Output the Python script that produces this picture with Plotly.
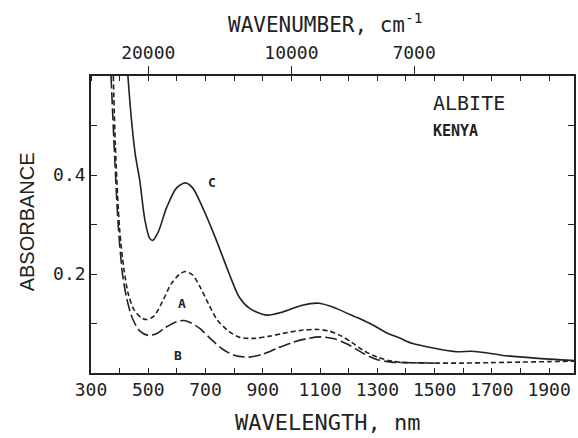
import plotly.graph_objects as go

# Curve A (short dash)
a_nm = [378, 385, 400, 415, 430, 450, 475, 495, 520, 550, 580, 610, 630, 655, 680, 710, 740, 780, 820, 870,
        920, 970, 1030, 1090, 1130, 1170, 1210, 1250, 1300, 1350, 1400, 1500, 1600, 1700, 1800, 1900, 1987]
a_abs = [0.60, 0.46, 0.29, 0.21, 0.16, 0.128, 0.112, 0.108, 0.115, 0.145, 0.18, 0.200, 0.205, 0.198, 0.175, 0.14, 0.108, 0.085, 0.072, 0.070,
         0.074, 0.080, 0.086, 0.088, 0.085, 0.076, 0.062, 0.046, 0.032, 0.024, 0.021, 0.020, 0.020, 0.021, 0.022, 0.023, 0.024]

# Curve B (long dash)
b_nm = [370, 380, 395, 410, 425, 445, 470, 500, 530, 560, 600, 625, 650, 680, 720, 760, 800, 850, 900,
        950, 1000, 1050, 1100, 1150, 1200, 1250, 1300, 1350, 1400, 1500]
b_abs = [0.60, 0.47, 0.30, 0.20, 0.15, 0.11, 0.085, 0.076, 0.080, 0.092, 0.104, 0.106, 0.101, 0.090, 0.068, 0.048, 0.036, 0.032, 0.038,
         0.050, 0.061, 0.069, 0.073, 0.069, 0.057, 0.040, 0.027, 0.022, 0.021, 0.020]

# Curve C (solid)
c_nm = [429, 440, 455, 470, 488, 505, 516, 535, 564, 599, 630, 655, 690, 738, 783, 818, 853, 912, 969,
        1038, 1097, 1155, 1190, 1230, 1281, 1330, 1380, 1421, 1500, 1577, 1629, 1680, 1733, 1851, 1987]
c_abs = [0.60, 0.52, 0.44, 0.39, 0.31, 0.272, 0.268, 0.285, 0.334, 0.374, 0.384, 0.374, 0.334, 0.268, 0.20, 0.153, 0.131, 0.117, 0.123,
         0.137, 0.141, 0.131, 0.122, 0.112, 0.098, 0.082, 0.070, 0.060, 0.050, 0.043, 0.044, 0.041, 0.036, 0.030, 0.025]

x_ticks = [300, 500, 700, 900, 1100, 1300, 1500, 1700, 1900]
top_ticks_wn = [20000, 10000, 7000]
y_ticks = [0.2, 0.4]

INK = "#222222"
MONO = "DejaVu Sans Mono"

fig = go.Figure()
fig.add_trace(go.Scatter(x=a_nm, y=a_abs, mode="lines",
                         line=dict(color=INK, width=1.6, dash="5px,3px", shape="spline", smoothing=0.8)))
fig.add_trace(go.Scatter(x=b_nm, y=b_abs, mode="lines",
                         line=dict(color=INK, width=1.6, dash="12px,4px", shape="spline", smoothing=0.8)))
fig.add_trace(go.Scatter(x=c_nm, y=c_abs, mode="lines",
                         line=dict(color=INK, width=1.6, shape="spline", smoothing=0.8)))
# invisible trace to activate the top axis
fig.add_trace(go.Scatter(x=[c_nm[0]], y=[c_abs[0]], xaxis="x2", mode="markers",
                         marker=dict(opacity=0), hoverinfo="skip"))

xr = [300, 1987]
fig.update_layout(
    width=578, height=438,
    margin=dict(l=91, r=2, t=76, b=65),
    paper_bgcolor="white", plot_bgcolor="white",
    showlegend=False,
    font=dict(family=MONO, size=18, color=INK),
    xaxis=dict(range=xr, tickmode="array", tickvals=x_ticks, ticktext=[str(v) for v in x_ticks],
               ticks="inside", ticklen=5, tickwidth=1.2, tickcolor=INK,
               minor=dict(ticks="inside", tick0=300, dtick=100, ticklen=5, tickwidth=1.2, tickcolor=INK),
               showline=True, linecolor=INK, linewidth=1.6, mirror=True,
               showgrid=False, zeroline=False,
               tickfont=dict(family=MONO, size=18, color=INK)),
    xaxis2=dict(range=xr, overlaying="x", side="top", anchor="y", tickmode="array",
                tickvals=[1e7 / w for w in top_ticks_wn], ticktext=[str(w) for w in top_ticks_wn],
                ticks="outside", ticklen=8, tickwidth=1.2, tickcolor=INK,
                minor=dict(ticks="inside", tick0=300, dtick=100, ticklen=5, tickwidth=1.2, tickcolor=INK),
                showline=True, linecolor=INK, linewidth=1.6,
                showgrid=False, zeroline=False,
                tickfont=dict(family=MONO, size=18, color=INK)),
    yaxis=dict(range=[0, 0.6], tickmode="array", tickvals=y_ticks, ticktext=[f"{v:.1f}" for v in y_ticks],
               ticks="inside", ticklen=6, tickwidth=1.2, tickcolor=INK,
               minor=dict(ticks="inside", tick0=0, dtick=0.1, ticklen=6, tickwidth=1.2, tickcolor=INK),
               showline=True, linecolor=INK, linewidth=1.6, mirror="ticks",
               showgrid=False, zeroline=False,
               tickfont=dict(family=MONO, size=18, color=INK)),
    annotations=[
        dict(text="WAVELENGTH, nm", xref="paper", yref="paper", x=0.49, y=-0.165,
             showarrow=False, font=dict(family=MONO, size=22, color=INK), xanchor="center", yanchor="middle"),
        dict(text="WAVENUMBER, cm<sup>-1</sup>", xref="paper", yref="paper", x=0.485, y=1.18,
             showarrow=False, font=dict(family=MONO, size=21, color=INK), xanchor="center", yanchor="middle"),
        dict(text="ABSORBANCE", xref="paper", yref="paper", x=-0.132, y=0.508, textangle=-90,
             showarrow=False, font=dict(family="Liberation Sans", size=20, color=INK), xanchor="center", yanchor="middle"),
        dict(text="ALBITE", xref="x", yref="y", x=1486, y=0.545, xanchor="left", yanchor="middle",
             showarrow=False, font=dict(family=MONO, size=20, color=INK)),
        dict(text="<b>KENYA</b>", xref="x", yref="y", x=1486, y=0.489, xanchor="left", yanchor="middle",
             showarrow=False, font=dict(family=MONO, size=15, color=INK)),
        dict(text="<b>C</b>", xref="x", yref="y", x=724, y=0.384, showarrow=False,
             font=dict(family=MONO, size=13, color=INK)),
        dict(text="<b>A</b>", xref="x", yref="y", x=617, y=0.141, showarrow=False,
             font=dict(family=MONO, size=13, color=INK)),
        dict(text="<b>B</b>", xref="x", yref="y", x=603, y=0.036, showarrow=False,
             font=dict(family=MONO, size=13, color=INK)),
    ],
)

fig.write_html("out.html")
